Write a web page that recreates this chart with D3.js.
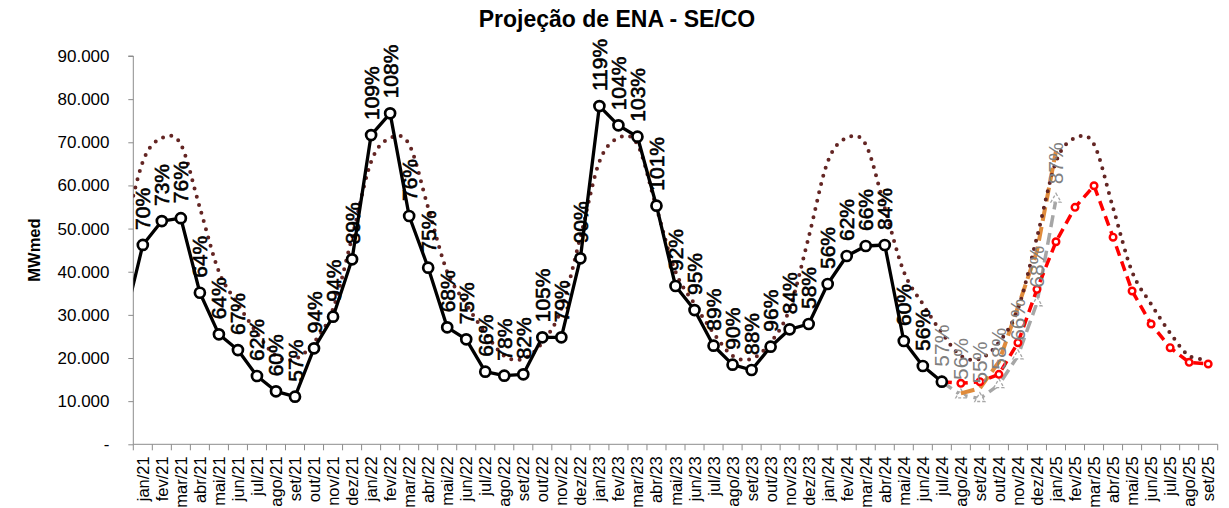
<!DOCTYPE html>
<html><head><meta charset="utf-8">
<script src="https://cdn.jsdelivr.net/npm/d3@7"></script>
<style>
html,body{margin:0;padding:0;background:#fff;}
svg{display:block;font-family:"Liberation Sans",Arial,sans-serif;}
</style>
</head><body>
<svg id="chart" width="1229" height="508"></svg>
<script>
// ---------------- DATA ----------------
const categories = [
  "jan/21","fev/21","mar/21","abr/21","mai/21","jun/21","jul/21","ago/21","set/21","out/21","nov/21","dez/21",
  "jan/22","fev/22","mar/22","abr/22","mai/22","jun/22","jul/22","ago/22","set/22","out/22","nov/22","dez/22",
  "jan/23","fev/23","mar/23","abr/23","mai/23","jun/23","jul/23","ago/23","set/23","out/23","nov/23","dez/23",
  "jan/24","fev/24","mar/24","abr/24","mai/24","jun/24","jul/24","ago/24","set/24","out/24","nov/24","dez/24",
  "jan/25","fev/25","mar/25","abr/25","mai/25","jun/25","jul/25","ago/25","set/25"
];
// month preceding the first category (line enters from the left edge)
const prevCategory = "dez/20";
const enaPrev = 27900;
const mltPrev = 48000;

// ENA verificada (MWmed), jan/21 .. jul/24
const enaVerified = [
  46200,51750,52400,35130,25490,21850,15830,12280,11030,22250,29570,42870,
  71680,76710,52910,40930,27110,24330,16830,15900,16220,24800,24800,43100,
  78400,73930,71290,55300,36690,31120,22850,18450,17220,22620,26650,27880,
  37150,43640,45960,46190,23940,18150,14510
];
// % MLT labels of the verified series
const enaLabels = [
  "70%","73%","76%","64%","64%","67%","62%","60%","57%","94%","94%","89%",
  "109%","108%","76%","75%","68%","75%","66%","78%","82%","105%","79%","90%",
  "119%","104%","103%","101%","92%","95%","89%","90%","88%","96%","84%","58%",
  "56%","62%","66%","84%","60%","56%",""
];
// MLT (long-term average), jan/21 .. set/25
const mltValues = [
  65500,71000,69500,54800,40000,32500,25800,20500,19800,23600,31400,48000,
  65500,71000,69500,54800,40000,32500,25800,20500,19800,23600,31400,48000,
  65500,71000,69500,54800,40000,32500,25800,20500,19800,23600,31400,48000,
  65500,71000,69500,54800,40000,32500,25800,20500,19800,23600,31400,48000,
  65500,71000,69500,54800,40000,32500,25800,20500,19800
];
// Projection (red)
const projCategories = ["jul/24","ago/24","set/24","out/24","nov/24","dez/24","jan/25","fev/25","mar/25","abr/25","mai/25","jun/25","jul/25","ago/25","set/25"];
const projValues = [14510,14140,14510,16220,23550,35920,46950,54920,59930,48000,35530,27880,22390,19000,18610];
// Gray scenario with % MLT labels
const grayCategories = ["jul/24","ago/24","set/24","out/24","nov/24","dez/24","jan/25"];
const grayValues = [14510,11430,10600,13800,20500,32800,56800];
const grayLabels = ["57%","56%","55%","58%","66%","68%","87%"];
// Orange scenario
const orangeCategories = ["ago/24","set/24","out/24","nov/24","dez/24","jan/25"];
const orangeValues = [11800,13000,19100,31800,44800,68000];

const yTicks = [0,10000,20000,30000,40000,50000,60000,70000,80000,90000];
const yTickLabels = ["-","10.000","20.000","30.000","40.000","50.000","60.000","70.000","80.000","90.000"];
const title = "Projeção de ENA - SE/CO";
const yTitle = "MWmed";

// ---------------- CHART ----------------
const svg = d3.select("#chart");
const pLeft = 133.3, pRight = 1217.7, pTop = 56, pBottom = 444.3;
const bw0 = (pRight - pLeft) / categories.length;
const x = d3.scaleBand().domain([prevCategory, ...categories]).range([pLeft - bw0, pRight]).padding(0);
const bw = x.bandwidth();
const cx = c => x(c) + bw / 2;
const y = d3.scaleLinear().domain([0, 90000]).range([pBottom, pTop]);

svg.append("defs").append("clipPath").attr("id","plotclip")
  .append("rect").attr("x", pLeft).attr("y", 0).attr("width", 1229 - pLeft).attr("height", 508);

// Title
svg.append("text").attr("x", 617).attr("y", 27).attr("text-anchor","middle")
  .attr("font-size", 23).attr("font-weight","bold").attr("fill","#000").text(title);

// Y axis title
svg.append("text").attr("transform","translate(40,250) rotate(-90)")
  .attr("text-anchor","middle").attr("font-size",16.5).attr("font-weight","bold").text(yTitle);

// Y axis
const yAxis = d3.axisLeft(y).tickValues(yTicks).tickSize(5).tickPadding(pLeft - 5 - 109.5)
  .tickFormat((d,i) => yTickLabels[i]);
const gy = svg.append("g").attr("transform",`translate(${pLeft},0)`).call(yAxis);
gy.select(".domain").attr("stroke","#8c8c8c").attr("d", `M-5,${pTop}H0V${pBottom}`);
gy.selectAll(".tick line").attr("stroke","#8c8c8c");
gy.selectAll(".tick text").attr("font-size",17).attr("fill","#000").attr("font-family","Liberation Sans, Arial, sans-serif");

// X axis
const gx = svg.append("g");
gx.append("line").attr("x1", pLeft).attr("x2", pRight).attr("y1", pBottom).attr("y2", pBottom).attr("stroke","#8c8c8c");
gx.selectAll("line.tk").data(categories).enter().append("line").attr("class","tk")
  .attr("x1", d => x(d)).attr("x2", d => x(d)).attr("y1", pBottom).attr("y2", pBottom + 6).attr("stroke","#8c8c8c");
gx.append("line").attr("x1", pRight).attr("x2", pRight).attr("y1", pBottom).attr("y2", pBottom + 6).attr("stroke","#8c8c8c");
gx.selectAll("text").data(categories).enter().append("text")
  .attr("transform", d => `translate(${cx(d)},${pBottom + 12}) rotate(-90)`)
  .attr("text-anchor","end").attr("dominant-baseline","central")
  .attr("font-size",16.5).attr("fill","#000").text(d => d);

const plot = svg.append("g").attr("clip-path","url(#plotclip)");

// Gray scenario
const grayPts = grayCategories.map((c,i) => ({c, v: grayValues[i], l: grayLabels[i]}));
plot.append("path").datum(grayPts)
  .attr("d", d3.line().x(d => cx(d.c)).y(d => y(d.v)))
  .attr("fill","none").attr("stroke","#a6a6a6").attr("stroke-width",3.5).attr("stroke-dasharray","12,6");
plot.selectAll("path.tri").data(grayPts).enter().append("path").attr("class","tri")
  .attr("d", d3.symbol().type(d3.symbolTriangle).size(45))
  .attr("transform", d => `translate(${cx(d.c)},${y(d.v)})`)
  .attr("fill","#fff").attr("stroke","#a6a6a6").attr("stroke-width",1.3).attr("stroke-dasharray","3,2");

// Orange scenario
const orPts = orangeCategories.map((c,i) => ({c, v: orangeValues[i]}));
plot.append("path").datum(orPts)
  .attr("d", d3.line().x(d => cx(d.c)).y(d => y(d.v)))
  .attr("fill","none").attr("stroke","#e08b3b").attr("stroke-width",4).attr("stroke-dasharray","14,6");

// Projection (red)
const projPts = projCategories.map((c,i) => ({c, v: projValues[i]}));
plot.append("path").datum(projPts)
  .attr("d", d3.line().x(d => cx(d.c)).y(d => y(d.v)))
  .attr("fill","none").attr("stroke","#ff0000").attr("stroke-width",3.5).attr("stroke-dasharray","10,6");
plot.selectAll("circle.pr").data(projPts).enter().append("circle").attr("class","pr")
  .attr("cx", d => cx(d.c)).attr("cy", d => y(d.v)).attr("r",3.3)
  .attr("fill","#fff").attr("stroke","#ff0000").attr("stroke-width",2.4);

// MLT (dotted, smooth)
const mltPts = [{c: prevCategory, v: mltPrev}, ...categories.map((c,i) => ({c, v: mltValues[i]}))];
plot.append("path").datum(mltPts)
  .attr("d", d3.line().x(d => cx(d.c)).y(d => y(d.v)).curve(d3.curveCardinal.tension(0)))
  .attr("fill","none").attr("stroke","#632523").attr("stroke-width",4)
  .attr("stroke-linecap","round").attr("stroke-dasharray","0,8.5");

// ENA verified (black)
const enaPts = enaVerified.map((v,i) => ({c: categories[i], v, l: enaLabels[i]}));
plot.append("path").datum([{c: prevCategory, v: enaPrev}, ...enaPts])
  .attr("d", d3.line().x(d => cx(d.c)).y(d => y(d.v)))
  .attr("fill","none").attr("stroke","#000").attr("stroke-width",3.3).attr("stroke-linejoin","round");
plot.selectAll("circle.en").data(enaPts).enter().append("circle").attr("class","en")
  .attr("cx", d => cx(d.c)).attr("cy", d => y(d.v)).attr("r",5)
  .attr("fill","#fff").attr("stroke","#000").attr("stroke-width",2.7);

// Labels
svg.append("g").selectAll("text").data(enaPts.filter(d => d.l)).enter().append("text")
  .attr("transform", d => `translate(${cx(d.c)},${y(d.v) - 15}) rotate(-90)`)
  .attr("text-anchor","start").attr("dominant-baseline","central")
  .attr("font-size",21).attr("fill","#000").attr("stroke","#000").attr("stroke-width",0.6)
  .text(d => d.l);
svg.append("g").selectAll("text").data(grayPts).enter().append("text")
  .attr("transform", d => `translate(${cx(d.c)},${y(d.v) - 15}) rotate(-90)`)
  .attr("text-anchor","start").attr("dominant-baseline","central")
  .attr("font-size",21).attr("fill","#808080").text(d => d.l);
</script>
</body></html>
